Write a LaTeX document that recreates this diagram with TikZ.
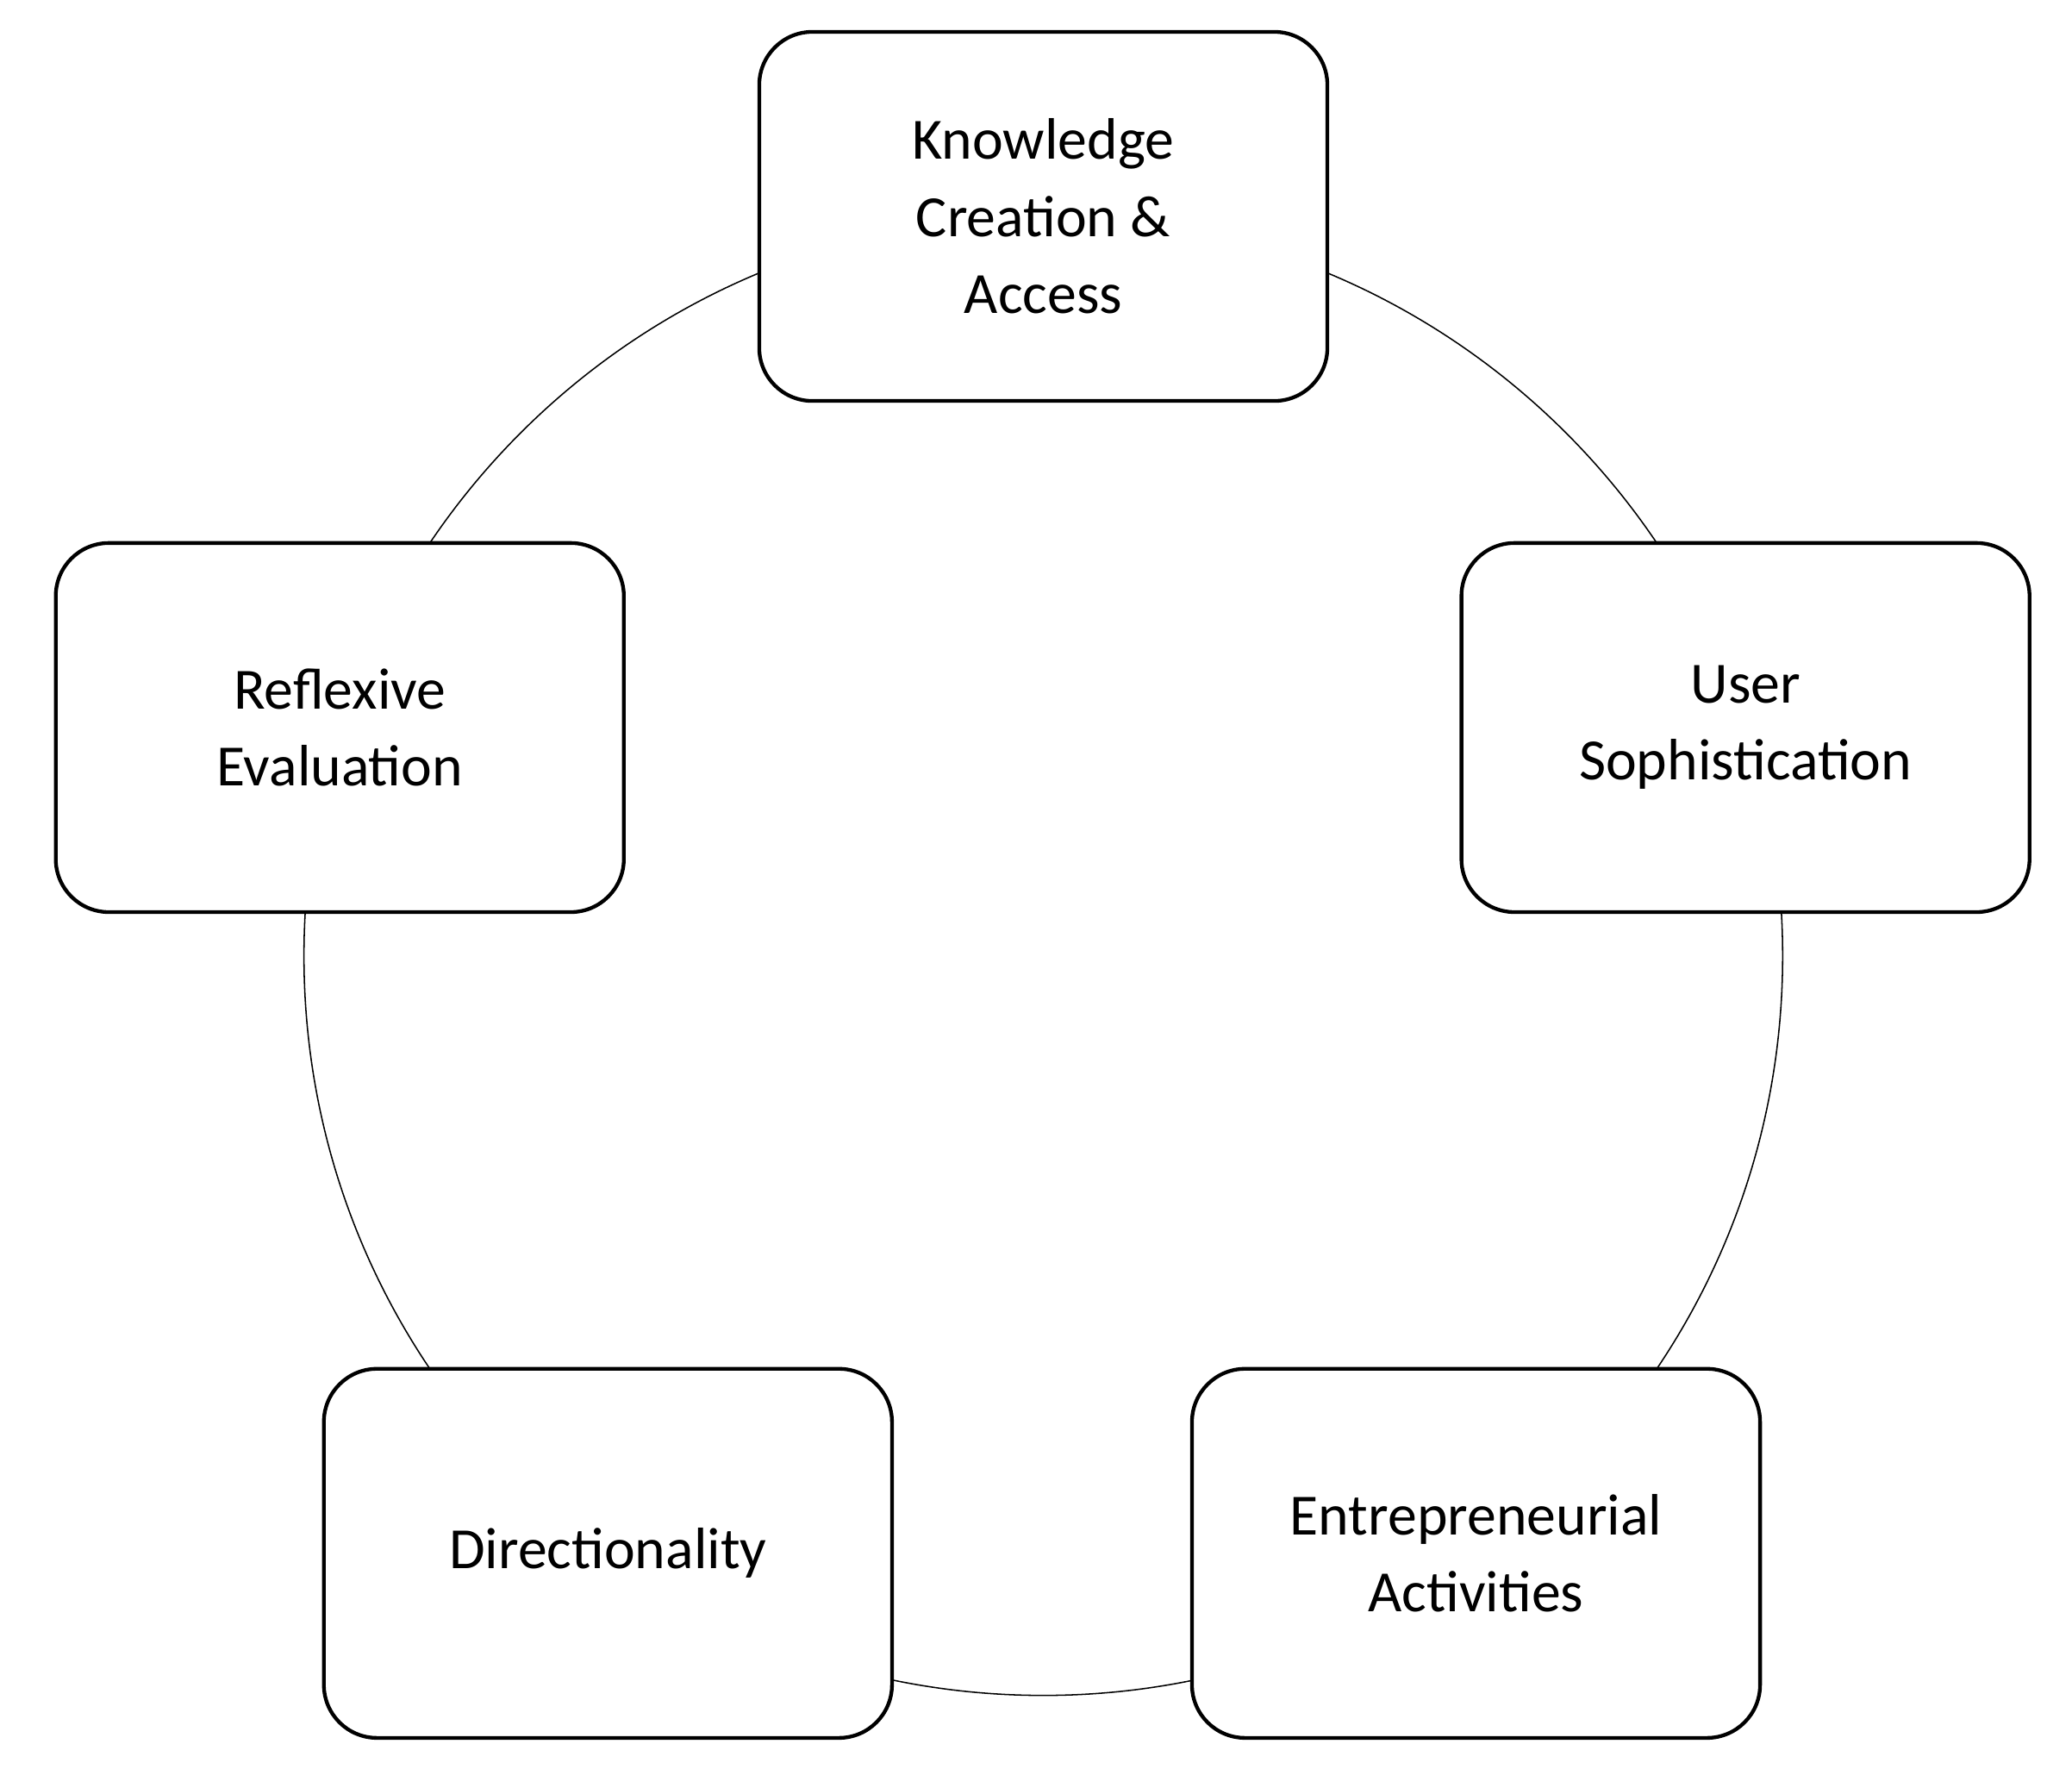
\documentclass[tikz,border=0pt]{standalone}
\usepackage{fontspec}
\setmainfont{Carlito}
\begin{document}
\begin{tikzpicture}[x=1pt,y=-1pt,
  boxn/.style={draw=black,line width=2.8pt,fill=white,rounded corners=40pt,minimum width=428pt,minimum height=278pt,align=center,font=\fontsize{44}{58}\selectfont,inner sep=0pt}]
\useasboundingbox (0,0) rectangle (1561,1332);
\node[coordinate] (c) at (786,720) {};
\draw[line width=1pt] (c) circle[radius=557];
\node[boxn] (k) at (786,163) {Knowledge\\Creation \&\\Access};
\node[boxn] (u) at (1315,548) {User\\Sophistication};
\node[boxn] (e) at (1112,1170) {Entrepreneurial\\Activities};
\node[boxn] (d) at (458,1170) {Directionality};
\node[boxn] (r) at (256,548) {Reflexive\\Evaluation};
\end{tikzpicture}
\end{document}
